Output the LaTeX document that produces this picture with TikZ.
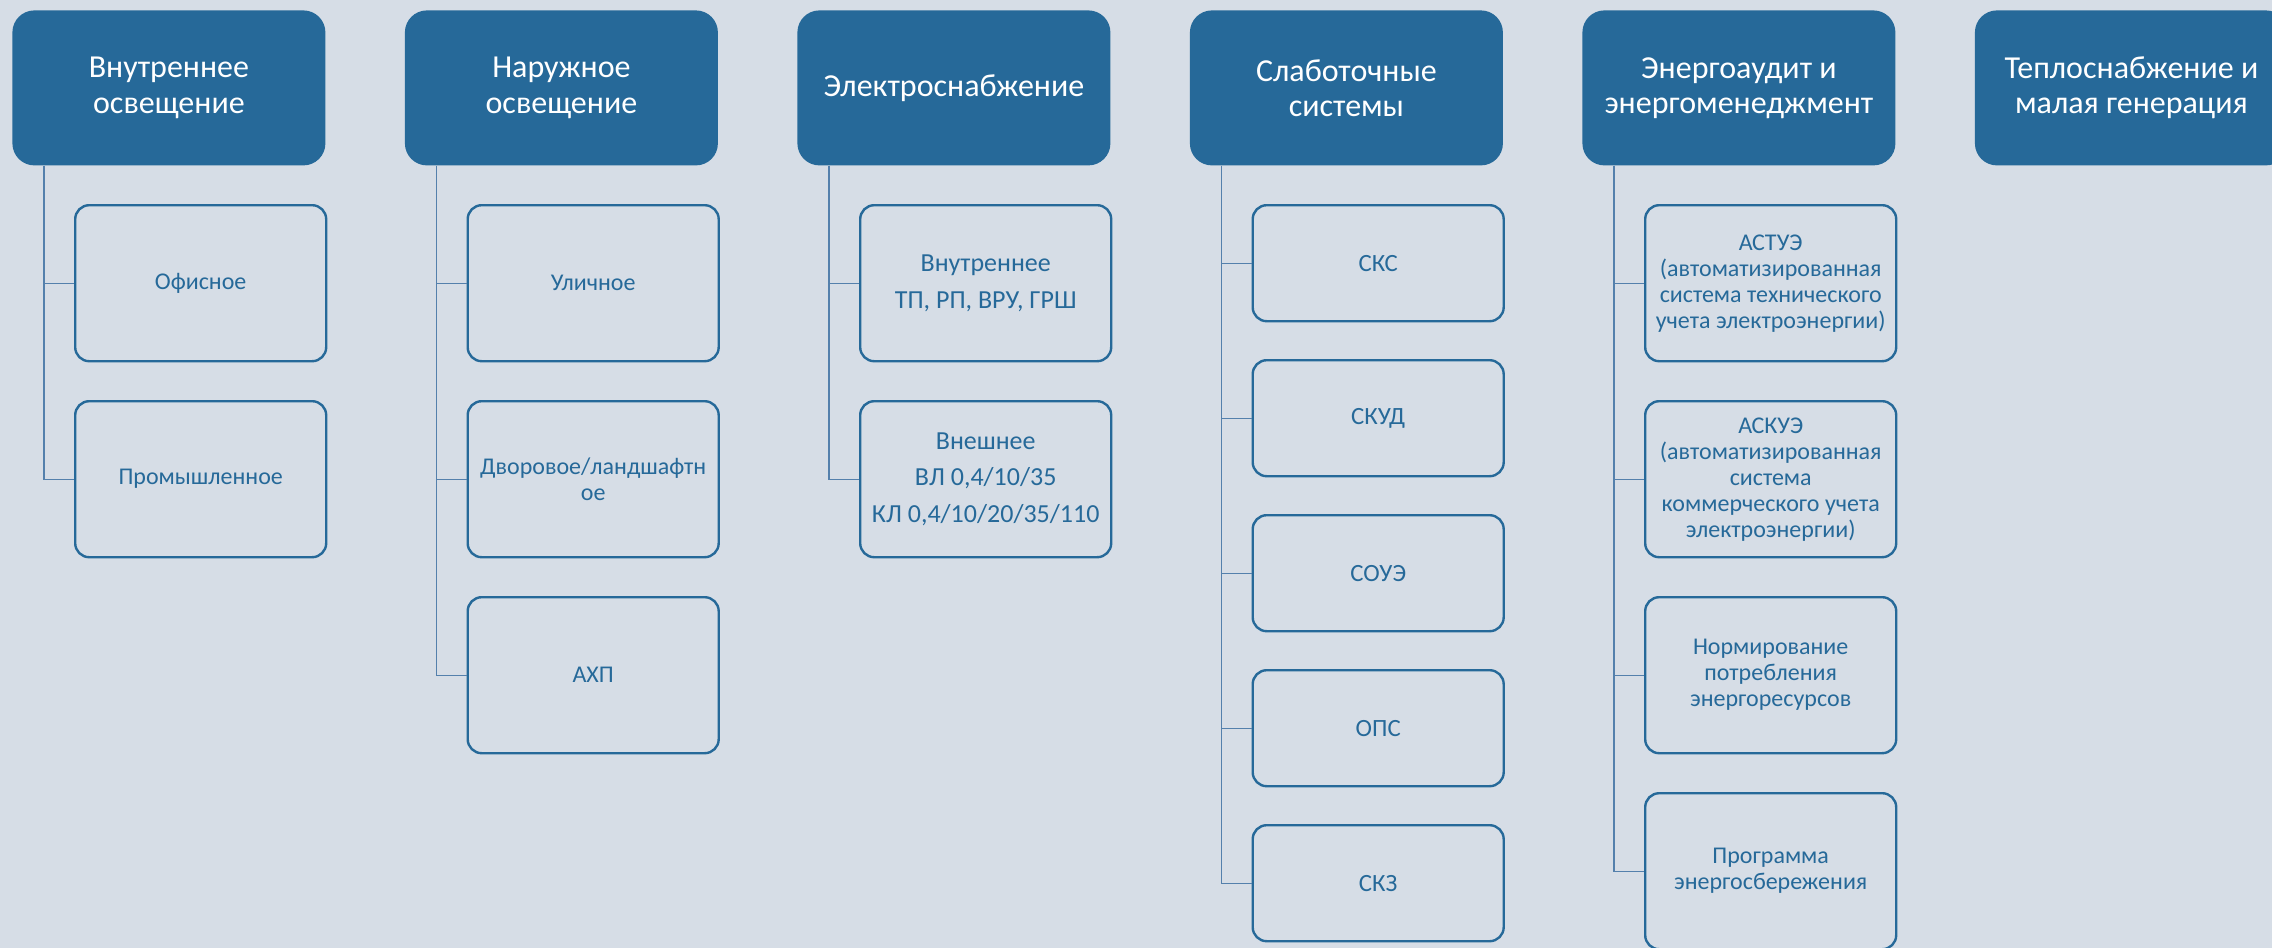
\documentclass[tikz,border=0pt]{standalone}
\usepackage{fontspec}
\setmainfont{Carlito}
\definecolor{fonblue}{RGB}{214,221,230}
\definecolor{headblue}{RGB}{38,105,153}
\definecolor{lineblue}{RGB}{84,128,172}

\begin{document}
\begin{tikzpicture}[x=0.5pt, y=-0.5pt,
    head/.style={fill=headblue, text=white, rounded corners=11pt, anchor=north west,
        minimum width=156.5pt, minimum height=77.5pt, align=center, inner sep=0pt,
        font=\fontsize{16}{17.6}\selectfont},
    item/.style={draw=headblue, line width=1.2pt, rounded corners=7pt, anchor=north west,
        minimum width=125.5pt, minimum height=78pt, align=center, inner sep=0pt,
        text=headblue, font=\fontsize{12}{12.6}\selectfont},
    powitem/.style={item, font=\fontsize{13}{14.5}\selectfont},
    smallitem/.style={item, minimum height=58pt, font=\fontsize{12.4}{14}\selectfont},
    auditem/.style={item, font=\fontsize{12}{13}\selectfont},
    link/.style={draw=lineblue, line width=0.6pt}]

    % Фон
    \fill[fonblue] (0,0) rectangle (2272,948);
    \useasboundingbox (0,0) rectangle (2272,948);
    \clip (0,0) rectangle (2272,948);

    % Заголовки
    \node[head] (h1) at (12,10) {Внутреннее\\освещение};
    \node[head] (h2) at (404.5,10) {Наружное\\освещение};
    \node[head] (h3) at (797,10) {Электроснабжение};
    \node[head] (h4) at (1189.5,10) {Слаботочные\\системы};
    \node[head] (h5) at (1582,10) {Энергоаудит и\\энергоменеджмент};
    \node[head] (h6) at (1974.5,10) {Теплоснабжение и\\малая генерация};

    % Освещение
    \node[item] (a1) at (74,204) {Офисное};
    \node[item] (a2) at (74,400) {Промышленное};
    \node[item] (b1) at (466.5,204) {Уличное};
    \node[item] (b2) at (466.5,400) {Дворовое/ландшафтн\\ое};
    \node[item] (b3) at (466.5,596) {АХП};

    % Электроснабжение
    \node[powitem] (c1) at (859,204) {Внутреннее\\[3.8pt]ТП, РП, ВРУ, ГРШ};
    \node[powitem] (c2) at (859,400) {Внешнее\\[3.8pt]ВЛ 0,4/10/35\\[3.8pt]КЛ 0,4/10/20/35/110};

    % Слаботочные системы
    \node[smallitem] (d1) at (1251.5,204) {СКС};
    \node[smallitem] (d2) at (1251.5,359) {СКУД};
    \node[smallitem] (d3) at (1251.5,514) {СОУЭ};
    \node[smallitem] (d4) at (1251.5,669) {ОПС};
    \node[smallitem] (d5) at (1251.5,824) {СКЗ};

    % Энергоаудит
    \node[auditem] (e1) at (1644,204) {АСТУЭ\\(автоматизированная\\система технического\\учета электроэнергии)};
    \node[auditem] (e2) at (1644,400) {АСКУЭ\\(автоматизированная\\система\\коммерческого учета\\электроэнергии)};
    \node[auditem] (e3) at (1644,596) {Нормирование\\потребления\\энергоресурсов};
    \node[auditem] (e4) at (1644,792) {Программа\\энергосбережения};

    % Линии
    \draw[link] ([xshift=16pt]h1.south west) |- (a1.west);
    \draw[link] ([xshift=16pt]h1.south west) |- (a2.west);
    \draw[link] ([xshift=16pt]h2.south west) |- (b1.west);
    \draw[link] ([xshift=16pt]h2.south west) |- (b2.west);
    \draw[link] ([xshift=16pt]h2.south west) |- (b3.west);
    \draw[link] ([xshift=16pt]h3.south west) |- (c1.west);
    \draw[link] ([xshift=16pt]h3.south west) |- (c2.west);
    \draw[link] ([xshift=16pt]h4.south west) |- (d1.west);
    \draw[link] ([xshift=16pt]h4.south west) |- (d2.west);
    \draw[link] ([xshift=16pt]h4.south west) |- (d3.west);
    \draw[link] ([xshift=16pt]h4.south west) |- (d4.west);
    \draw[link] ([xshift=16pt]h4.south west) |- (d5.west);
    \draw[link] ([xshift=16pt]h5.south west) |- (e1.west);
    \draw[link] ([xshift=16pt]h5.south west) |- (e2.west);
    \draw[link] ([xshift=16pt]h5.south west) |- (e3.west);
    \draw[link] ([xshift=16pt]h5.south west) |- (e4.west);
\end{tikzpicture}
\end{document}
